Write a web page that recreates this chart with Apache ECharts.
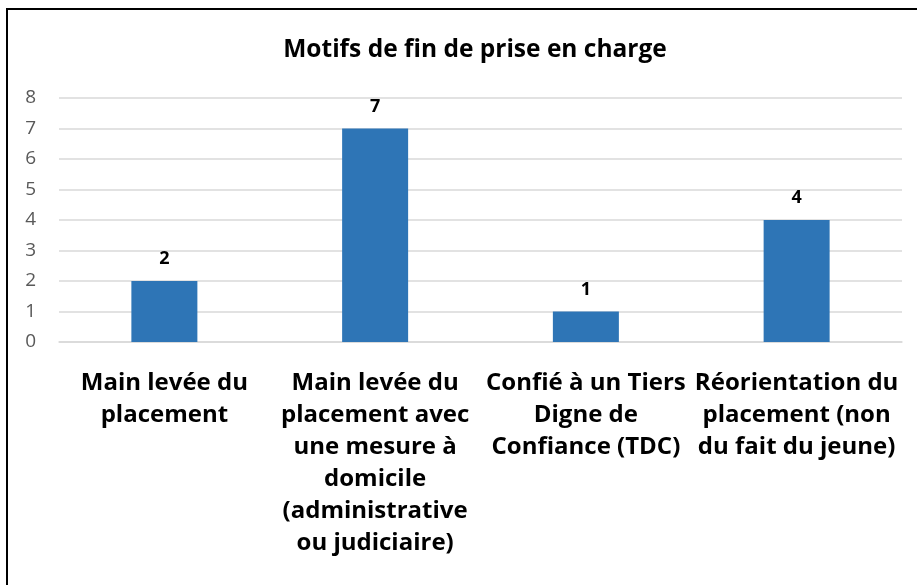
<!DOCTYPE html>
<html>
<head>
<meta charset="utf-8">
<script src="https://cdn.jsdelivr.net/npm/echarts@6/dist/echarts.min.js"></script>
<style>
  html, body { margin: 0; padding: 0; background: #fff; }
  #frame {
    position: absolute; left: 6px; top: 8px; width: 960px; height: 620px;
    border: 2px solid #000; box-sizing: border-box;
  }
  #chart { position: absolute; left: 0; top: 0; width: 917px; height: 585px; }
</style>
</head>
<body>
<div id="frame"></div>
<div id="chart"></div>
<script>
const categories = [
  "Main levée du\nplacement",
  "Main levée du\nplacement avec\nune mesure à\ndomicile\n(administrative\nou judiciaire)",
  "Confié à un Tiers\nDigne de\nConfiance (TDC)",
  "Réorientation du\nplacement (non\ndu fait du jeune)"
];
const values = [2, 7, 1, 4];
const titleText = "Motifs de fin de prise en charge";

const chart = echarts.init(document.getElementById("chart"));
chart.setOption({
  animation: false,
  title: {
    text: titleText,
    left: 470,
    top: 33,
    textAlign: "center",
    textStyle: { fontFamily: "Open Sans", fontWeight: "bold", fontSize: 24.5, color: "#000" }
  },
  grid: { left: 59, right: 15, top: 98, bottom: 243, containLabel: false },
  xAxis: {
    type: "category",
    data: categories,
    axisLine: { show: true, lineStyle: { color: "#d9d9d9", width: 1.5 } },
    axisTick: { show: false },
    axisLabel: {
      interval: 0,
      margin: 25,
      fontFamily: "Open Sans",
      fontWeight: "bold",
      fontSize: 24,
      lineHeight: 32,
      color: "#000",
      verticalAlign: "top"
    }
  },
  yAxis: {
    type: "value",
    min: 0,
    max: 8,
    interval: 1,
    axisLine: { show: false },
    axisTick: { show: false },
    splitLine: { lineStyle: { color: "#d9d9d9", width: 1.5 } },
    axisLabel: {
      margin: 23,
      fontFamily: "Open Sans",
      fontSize: 19,
      color: "#595959"
    }
  },
  series: [{
    type: "bar",
    data: values,
    barWidth: 66,
    itemStyle: { color: "#2e75b6" },
    label: {
      show: true,
      position: "top",
      distance: 13,
      fontFamily: "Open Sans",
      fontWeight: "bold",
      fontSize: 18,
      color: "#000"
    }
  }]
});
</script>
</body>
</html>
